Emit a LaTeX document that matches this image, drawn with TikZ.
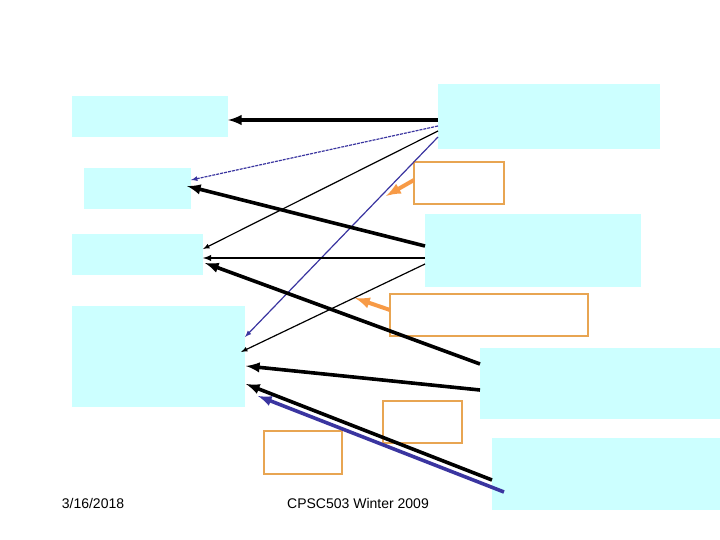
\documentclass[tikz,border=0pt]{standalone}
\usepackage{fontspec}
\setmainfont{Liberation Sans}
\usetikzlibrary{positioning}
\definecolor{boxcyan}{HTML}{CCFFFF}
\definecolor{boxorange}{HTML}{E8A552}
\definecolor{notearrow}{HTML}{F79A46}
\definecolor{linkblue}{HTML}{3A35A0}
\tikzset{
  cbox/.style={fill=boxcyan, draw=none},
  obox/.style={draw=boxorange, line width=2pt},
  heavy/.style={-latex, line width=3.6pt},
  light/.style={-latex, line width=1.2pt},
  mid/.style={-latex, line width=1.8pt},
  note/.style={-latex, draw=notearrow, line width=4pt},
}
\begin{document}
\begin{tikzpicture}[x=1pt, y=-1pt]
  \useasboundingbox (0,0) rectangle (720,540);

  % boxes on the left
  \fill[cbox] (72,96) rectangle (228,137);
  \fill[cbox] (84,168) rectangle (191,209);
  \fill[cbox] (72,234) rectangle (203,275);
  \fill[cbox] (72,306) rectangle (245,407);

  % boxes on the right
  \fill[cbox] (438,84) rectangle (660,149);
  \fill[cbox] (425,214) rectangle (641,287);
  \fill[cbox] (480,348) rectangle (720,419);
  \fill[cbox] (492,438) rectangle (720,510);

  % orange boxes
  \draw[obox] (414,162) rectangle (504,204);
  \draw[obox] (390,294) rectangle (588,336);
  \draw[obox] (383,401) rectangle (462,443);
  \draw[obox] (264,431) rectangle (342,474);

  % end points
  \coordinate (ra) at (438,120);  \coordinate (la) at (228,120);
  \coordinate (rb) at (438,126);  \coordinate (lb) at (191,180);
  \coordinate (rc) at (438,131);  \coordinate (lc) at (203,249);
  \coordinate (rd) at (438,137);  \coordinate (ld) at (245,337);
  \coordinate (re) at (425,246);  \coordinate (le) at (187,186);
  \coordinate (rf) at (425,258);  \coordinate (lf) at (203,258);
  \coordinate (rg) at (425,264);  \coordinate (lg) at (241,352);
  \coordinate (rh) at (480,364);  \coordinate (lh) at (205,263);
  \coordinate (ri) at (480,390);  \coordinate (li) at (246,366);
  \coordinate (rj) at (492,480);  \coordinate (lj) at (246,384);
  \coordinate (rk) at (504,492);  \coordinate (lk) at (258,396);
  \coordinate (oa) at (414,180);  \coordinate (pa) at (386,196);
  \coordinate (ob) at (390,310);  \coordinate (pb) at (355,298);

  % arrows
  \draw[heavy] (ra) -- (la);
  \draw[light, linkblue, dash pattern=on 3pt off 1pt] (rb) -- (lb);
  \draw[light] (rc) -- (lc);
  \draw[light, linkblue] (rd) -- (ld);
  \draw[heavy] (re) -- (le);
  \draw[mid] (rf) -- (lf);
  \draw[light] (rg) -- (lg);
  \draw[heavy] (rh) -- (lh);
  \draw[heavy] (ri) -- (li);
  \draw[heavy] (rj) -- (lj);
  \draw[heavy, linkblue] (rk) -- (lk);
  \draw[note] (oa) -- (pa);
  \draw[note] (ob) -- (pb);

  % footer
  \node[font=\fontsize{14}{16}\selectfont] (date) at (93,503) {3/16/2018};
  \node[font=\fontsize{14}{16}\selectfont] (course) at (358,503) {CPSC503 Winter 2009};
\end{tikzpicture}
\end{document}
